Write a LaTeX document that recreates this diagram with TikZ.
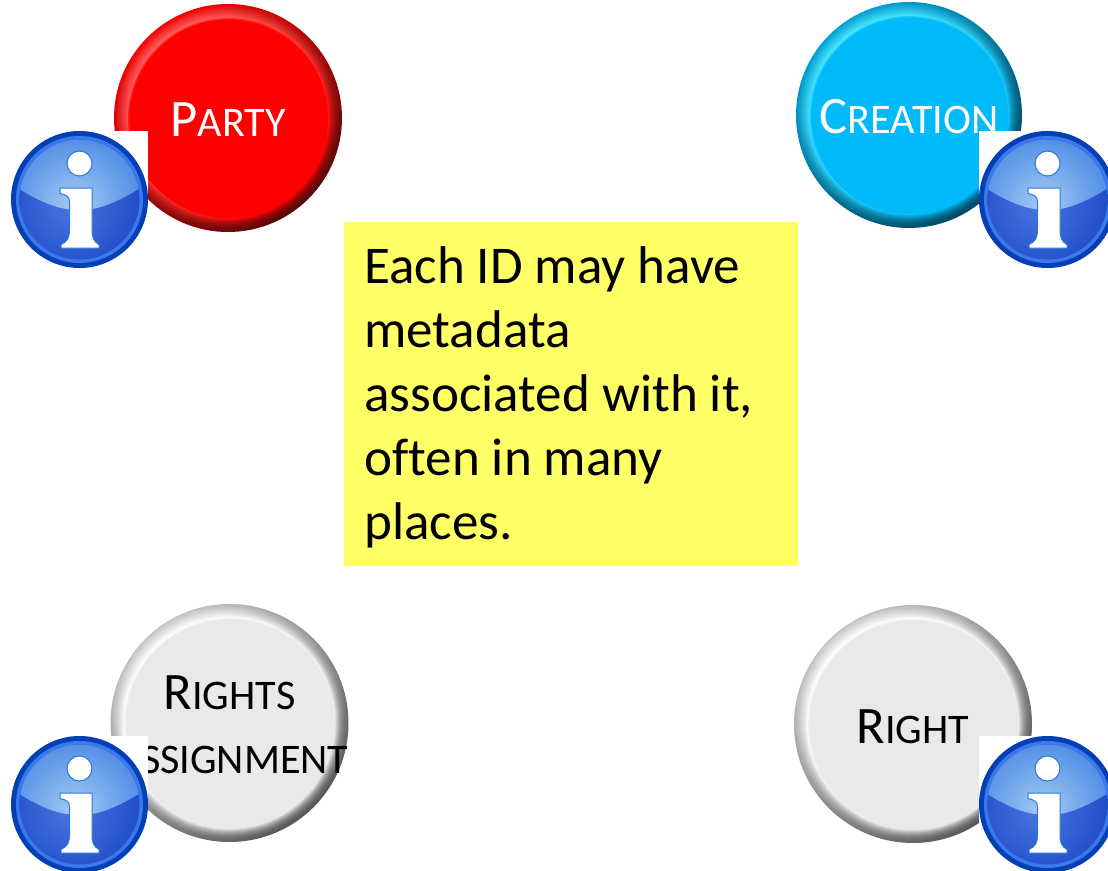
\documentclass[tikz,border=0pt]{standalone}
\usepackage{fontspec}
\setmainfont{Carlito}
\newcommand{\capbig}[1]{{\fontsize{39.5}{48}\selectfont #1}}
\newcommand{\capsmall}[1]{{\fontsize{31.6}{48}\selectfont #1}}
\definecolor{redface}{HTML}{FF0000}
\definecolor{rededge}{HTML}{F40000}
\definecolor{redhigh}{HTML}{FF6060}
\definecolor{reddark}{HTML}{5A0808}
\definecolor{cyanface}{HTML}{00BAFA}
\definecolor{cyanedge}{HTML}{009FD4}
\definecolor{cyanhigh}{HTML}{4AE6FF}
\definecolor{cyandark}{HTML}{004A62}
\definecolor{greyface}{HTML}{E9E9E9}
\definecolor{greyedge}{HTML}{C4C4C4}
\definecolor{greyhigh}{HTML}{FFFFFF}
\definecolor{greydark}{HTML}{585858}
\definecolor{noteyellow}{HTML}{FFFF66}
\definecolor{infoedge}{HTML}{0340B4}
\definecolor{inforing}{HTML}{3B78EE}
\definecolor{infoline}{HTML}{2A78D8}
\definecolor{infobase}{HTML}{0430B8}
\definecolor{infolow}{HTML}{4A78E0}
\definecolor{infoglossin}{HTML}{A4CAF4}
\definecolor{infoglossout}{HTML}{0A5CD8}
\tikzset{
  x=0.75pt, y=-0.75pt,
  btnlabel/.style={anchor=base, inner sep=0pt, align=center},
  note/.style={anchor=north west, fill=noteyellow, minimum width=340.5pt, minimum height=258pt, inner sep=0pt},
  notetext/.style={anchor=north west, inner sep=0pt, align=left, font=\fontsize{39.8}{48}\selectfont},
  pics/bevel/.style args={#1/#2/#3/#4/#5}{code={
    % #1 radius, #2 face, #3 edge, #4 highlight, #5 dark
    \foreach \k in {0,...,13}{
      \pgfmathtruncatemacro{\pct}{\k*100/13}
      \pgfmathtruncatemacro{\slow}{(\k/13)*(\k/13)*100}
      \shade[top color=#4!\pct!#3, middle color=#2!\slow!#3, bottom color=#2!\slow!#5, shading angle=40] (0,0) circle ({#1-\k});
    }
    \shade[top color=#2!50!#4, bottom color=#2, middle color=#2, shading angle=40] (0,0) circle ({#1-14});
    \fill[#2] (0,0) circle ({#1-15.5});
  }},
  pics/infoicon/.style={code={
    \fill[white] (-68.5,-68.5) rectangle (68.5,68.5);
    \fill[infoedge] (0,0) circle (68.5);
    \fill[inforing] (0,0) circle (63.5);
    \begin{scope}
      \clip (0,0) circle (60);
      \shade[inner color=infolow, outer color=infobase] (-8,4) circle (115);
      \begin{scope}
        \clip (-70,-80) -- (70,-80) -- (70,-17) .. controls (35,5) and (18,10.5) .. (0,10.5) .. controls (-18,10.5) and (-38,5) .. (-70,-17) -- cycle;
        \shade[inner color=infoglossin, outer color=infoglossout] (-5,5) circle (125);
      \end{scope}
    \end{scope}
    \fill[white, draw=infoline, line width=0.75pt] (0,-36) circle (12.5);
    \fill[white, draw=infoline, line width=0.75pt]
      (-19.5,-11.5) -- (12.5,-11.5) -- (12.5,30)
      .. controls (12.5,38) and (14,42) .. (19.5,45) -- (19.5,48.5) -- (-18.5,48.5) -- (-18.5,45)
      .. controls (-12,42) and (-10,38) .. (-10,30) -- (-10,2)
      .. controls (-10,-3) and (-14,-5) .. (-19.5,-6) -- cycle;
  }}
}
\begin{document}
\begin{tikzpicture}
\clip (0,0) rectangle (1108,871);
\fill[white] (0,0) rectangle (1108,871);

\pic (partybtn) at (228,118) {bevel={114/redface/rededge/redhigh/reddark}};
\pic (creationbtn) at (909,115) {bevel={113/cyanface/cyanedge/cyanhigh/cyandark}};
\pic (assignbtn) at (229.5,723) {bevel={119/greyface/greyedge/greyhigh/greydark}};
\pic (rightbtn) at (913,724) {bevel={119/greyface/greyedge/greyhigh/greydark}};

\node[btnlabel, text=white] (party) at (228,136) {\capbig{P}\capsmall{ARTY}};
\node[btnlabel, text=white] (creation) at (909,133) {\capbig{C}\capsmall{REATION}};
\node[btnlabel] (rights) at (229.5,709) {\capbig{R}\capsmall{IGHTS}};
\node[btnlabel] (assignment) at (229.5,773) {\capbig{A}\capsmall{SSIGNMENT}};
\node[btnlabel] (right) at (913,743) {\capbig{R}\capsmall{IGHT}};

\pic (infotl) at (79.5,199.5) {infoicon};
\pic (infotr) at (1047.5,199.5) {infoicon};
\pic (infobl) at (79.5,804.5) {infoicon};
\pic (infobr) at (1047.5,804.5) {infoicon};

\node[note] (notebox) at (344,222) {};
\node[notetext] (notelabel) at (364,246) {Each ID may have\\metadata\\associated with it,\\of\kern0pt ten in many\\places.};
\end{tikzpicture}
\end{document}
